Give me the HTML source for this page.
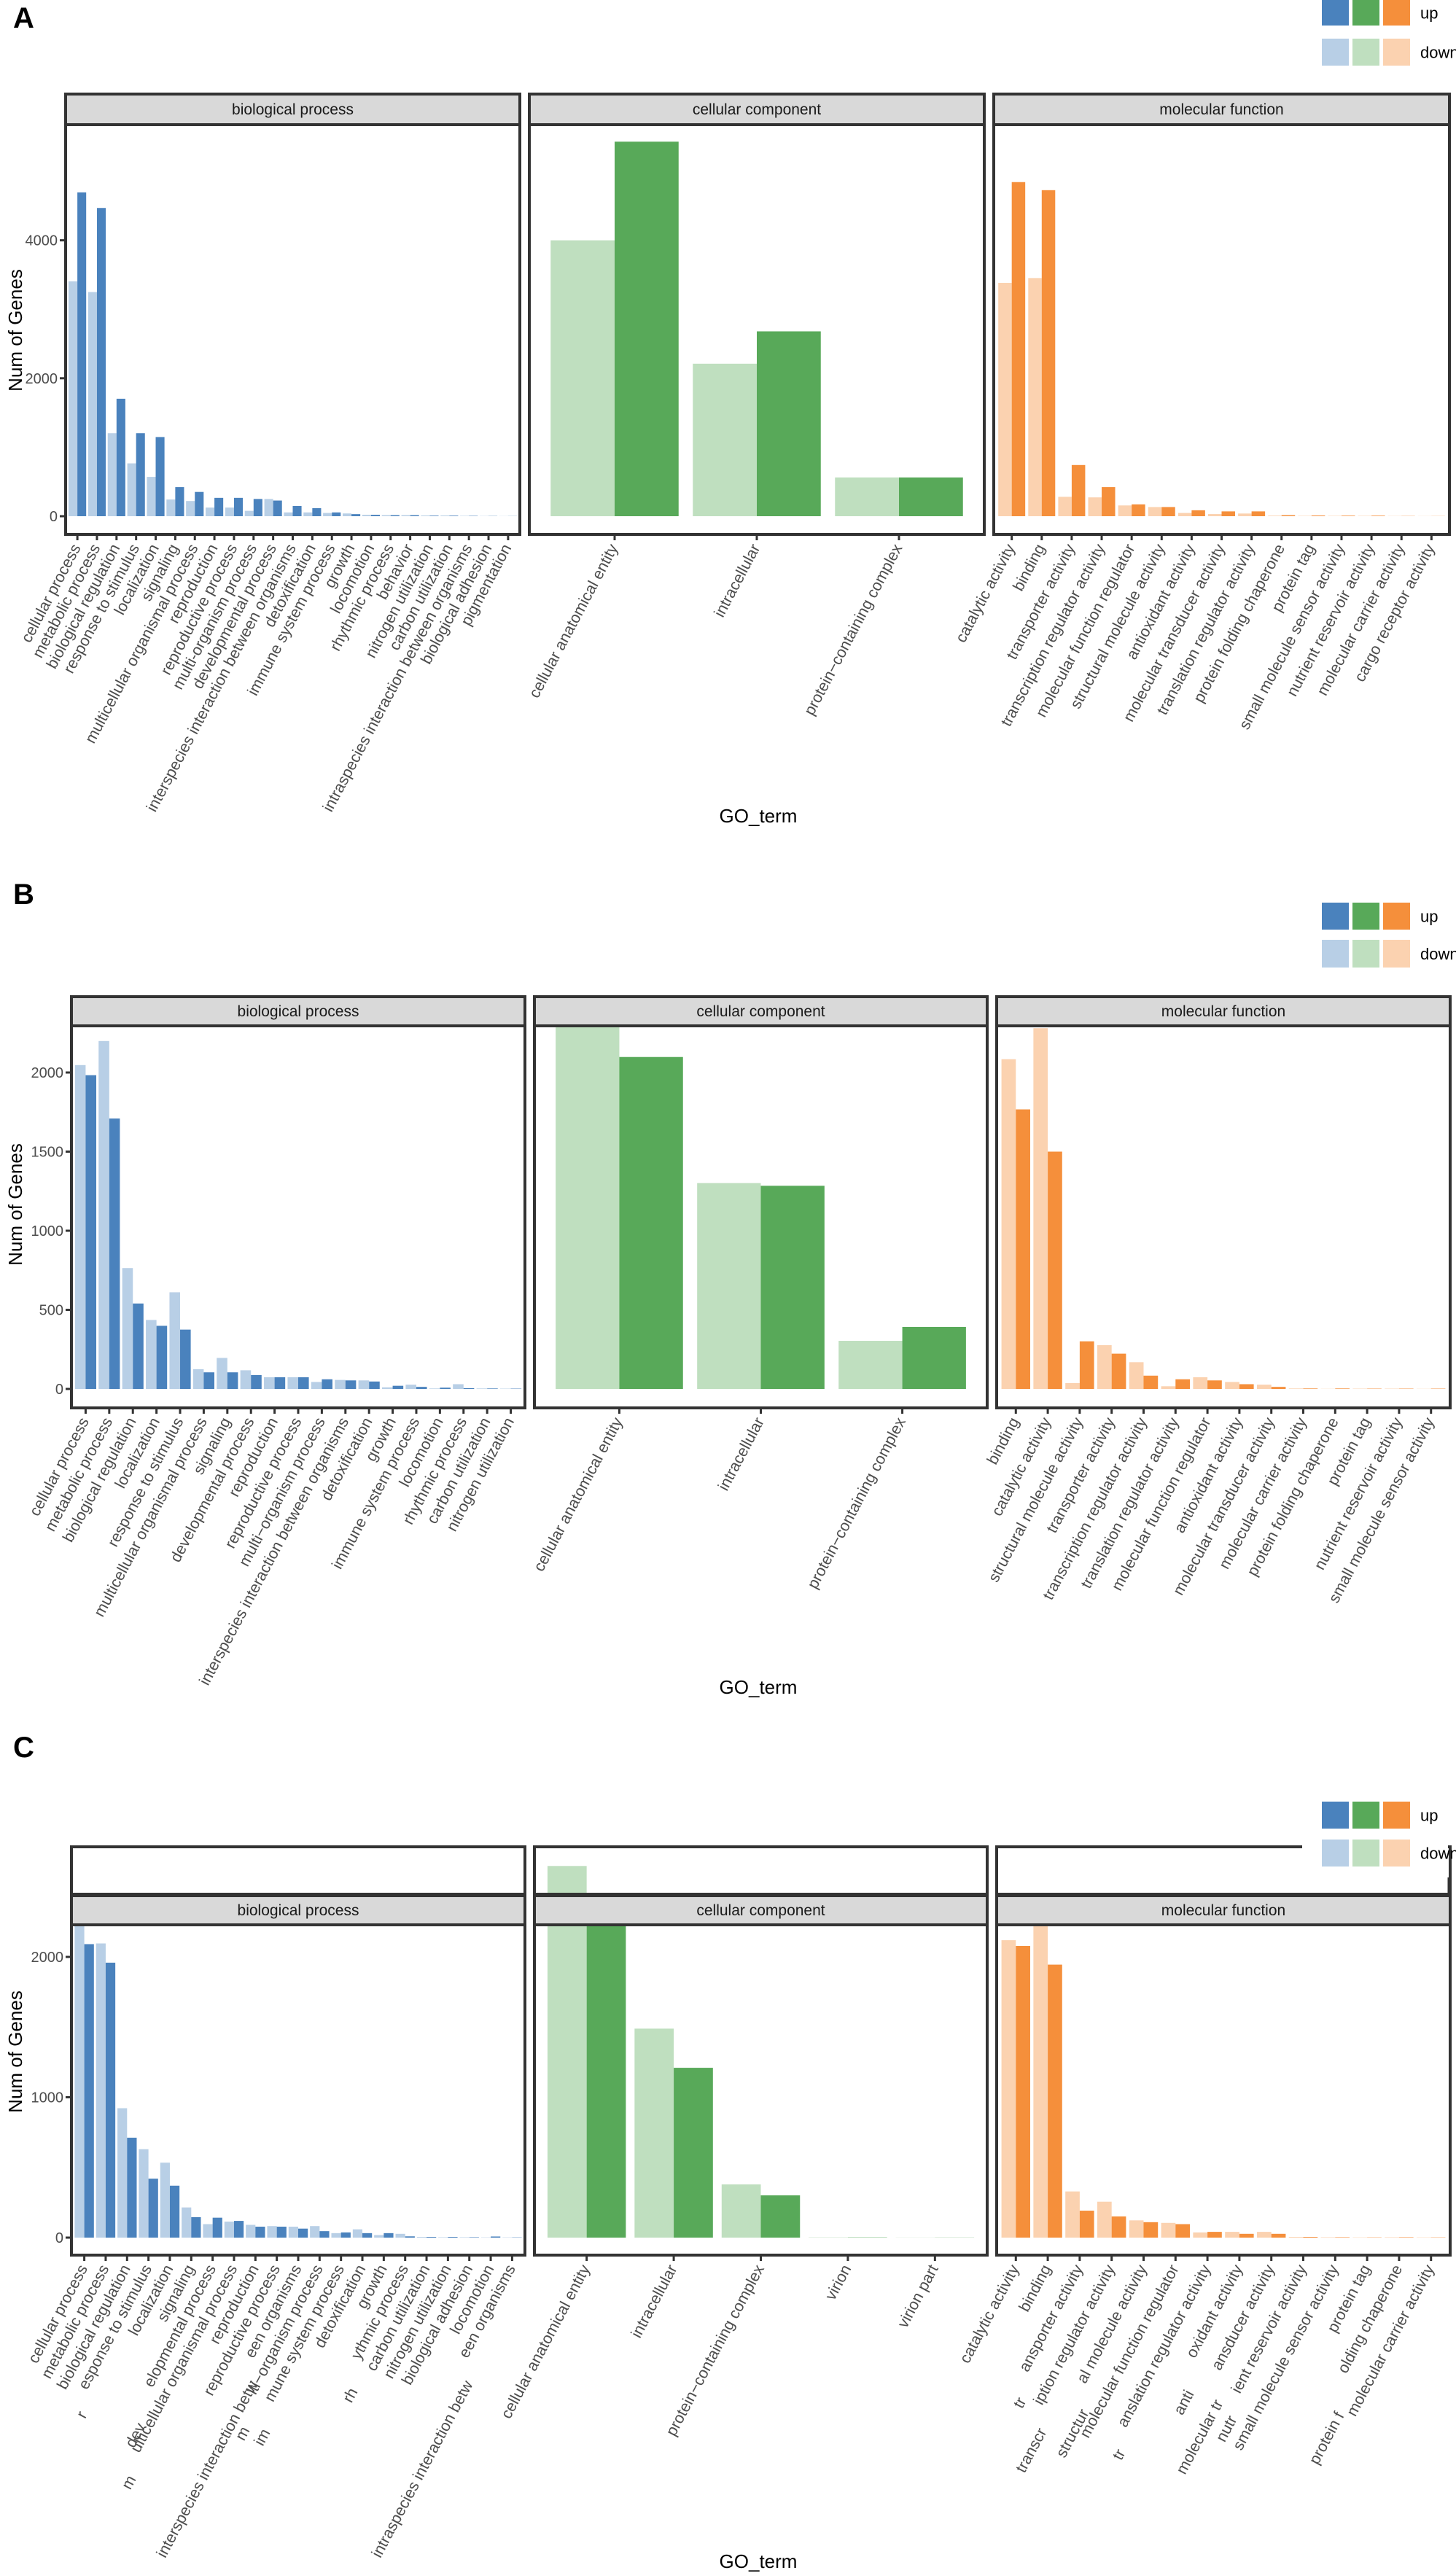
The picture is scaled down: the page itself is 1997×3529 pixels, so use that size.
<!DOCTYPE html>
<html><head><meta charset="utf-8">
<style>
html,body{margin:0;padding:0;background:#fff;}
svg{display:block;}
text{font-family:"Liberation Sans",Arial,sans-serif;}
</style></head>
<body>
<svg id="chart" width="1997" height="3529" viewBox="0 0 1997 3529" xmlns="http://www.w3.org/2000/svg"></svg>
<script>
// ===== Panel A data =====
const aBpCats=["cellular process","metabolic process","biological regulation","response to stimulus","localization","signaling","multicellular organismal process","reproduction","reproductive process","multi-organism process","developmental process","interspecies interaction between organisms","detoxification","immune system process","growth","locomotion","rhythmic process","behavior","nitrogen utilization","carbon utilization","intraspecies interaction between organisms","biological adhesion","pigmentation"];
const aBpUp=[4695,4469,1703,1203,1148,422,352,266,266,250,227,148,117,55,30,20,15,15,8,8,5,3,2];
const aBpDown=[3406,3250,1203,766,570,242,220,125,125,78,250,55,55,47,40,20,15,15,10,10,5,3,2];
const aCcCats=["cellular anatomical entity","intracellular","protein\u2212containing complex"];
const aCcUp=[5430,2680,562];
const aCcDown=[4000,2211,562];
const aMfCats=["catalytic activity","binding","transporter activity","transcription regulator activity","molecular function regulator","structural molecule activity","antioxidant activity","molecular transducer activity","translation regulator activity","protein folding chaperone","protein tag","small molecule sensor activity","nutrient reservoir activity","molecular carrier activity","cargo receptor activity"];
const aMfUp=[4844,4727,742,422,172,133,86,70,70,15,10,8,8,3,2];
const aMfDown=[3383,3453,281,273,156,133,47,31,39,8,5,5,5,3,2];
const aTicks=[0,2000,4000];
// ===== Panel B data =====
const bBpCats=["cellular process","metabolic process","biological regulation","localization","response to stimulus","multicellular organismal process","signaling","developmental process","reproduction","reproductive process","multi\u2212organism process","interspecies interaction between organisms","detoxification","growth","immune system process","locomotion","rhythmic process","carbon utilization","nitrogen utilization"];
const bBpUp=[1983,1709,540,399,375,105,105,88,74,74,61,54,47,20,13,8,5,3,2];
const bBpDown=[2047,2199,764,436,611,125,196,118,74,74,44,57,54,10,27,3,30,3,2];
const bCcCats=["cellular anatomical entity","intracellular","protein\u2212containing complex"];
const bCcUp=[2098,1284,392];
const bCcDown=[2290,1301,304];
const bMfCats=["binding","catalytic activity","structural molecule activity","transporter activity","transcription regulator activity","translation regulator activity","molecular function regulator","antioxidant activity","molecular transducer activity","molecular carrier activity","protein folding chaperone","protein tag","nutrient reservoir activity","small molecule sensor activity"];
const bMfUp=[1767,1500,301,223,84,61,54,30,13,3,3,2,2,2];
const bMfDown=[2084,2280,37,277,169,17,74,44,27,3,1,2,2,1];
const bTicks=[0,500,1000,1500,2000];
// ===== Panel C data =====
const cBpCats=["cellular process","metabolic process","biological regulation","esponse to stimulus","localization","signaling","elopmental process","ulticellular organismal process","reproduction","reproductive process","een organisms","lti\u2212organism process","mune system process","detoxification","growth","ythmic process","carbon utilization","nitrogen utilization","biological adhesion","locomotion","een organisms"];
const cBpUp=[2091,1959,712,420,370,146,142,119,78,78,64,46,37,32,32,9,5,5,3,8,2];
const cBpDown=[2228,2096,922,630,534,215,96,114,91,82,78,82,32,59,18,27,5,3,3,2,2];
const cCcCats=["cellular anatomical entity","intracellular","protein\u2212containing complex","virion","virion part"];
const cCcUp=[2240,1210,301,2,1];
const cCcDown=[2648,1489,379,2,1];
const cMfCats=["catalytic activity","binding","ansporter activity","iption regulator activity","al molecule activity","molecular function regulator","anslation regulator activity","oxidant activity","ansducer activity","ient reservoir activity","small molecule sensor activity","protein tag","olding chaperone","molecular carrier activity"];
const cMfUp=[2078,1945,192,151,110,96,41,27,27,5,3,2,3,2];
const cMfDown=[2119,2219,329,256,123,105,37,41,41,5,3,2,3,2];
const cTicks=[0,1000,2000];

const NS="http://www.w3.org/2000/svg";
const svg=document.getElementById('chart');
function mk(tag,attrs,parent){const e=document.createElementNS(NS,tag);for(const k in attrs)e.setAttribute(k,attrs[k]);(parent||svg).appendChild(e);return e;}

const COL={bp:["#4a82bd","#b8cfe6"],cc:["#58a959","#bfdfbf"],mf:["#f58f3b","#fbd2b0"]};
const PX=[[90,713],[726,1350],[1363,1988]];
const PXB=[[98,720],[733,1354],[1367,1989]];
const ANG=-62, LFS=21.5;

function drawFigure(f){
  const g=mk('g',{});
  
  
  const yS=v=>f.zero-v*f.k;
  const L=mk('text',{x:18,y:f.letterY,'font-size':40,'font-weight':'bold',fill:'#000'},g);
  L.textContent=f.id.toUpperCase();
  
  
  const clipId='clip'+f.id;
  const defs=mk('defs',{},g);
  f.panels.forEach((p,pi)=>{
    const [x0,x1]=f.px[pi];
    const w=x1-x0;
    const n=p.cats.length;
    const step=w/(n+0.2);
    const xS=i=>x0+(i+0.6)*step;
    const pg=mk('g',{},g);
    
    
    const cp=mk('clipPath',{id:clipId+pi},defs);
    mk('rect',{x:x0,y:f.clipTop,width:w,height:f.bottom-f.clipTop},cp);
    const bg=mk('g',{'clip-path':'url(#'+clipId+pi+')'},pg);
    p.cats.forEach((c,i)=>{
      const cx=xS(i),bw=step*0.45;
      const d=mk('rect',{x:cx-bw,y:yS(p.down[i]),width:bw,height:p.down[i]*f.k,fill:COL[p.key][1]},bg);
      
      
      const u=mk('rect',{x:cx,y:yS(p.up[i]),width:bw,height:p.up[i]*f.k,fill:COL[p.key][0]},bg);
      
      
      const t=mk('line',{x1:cx,x2:cx,y1:f.bottom,y2:f.bottom+8,stroke:'#333','stroke-width':3},pg);
      
      
      const tx=cx+5,ty=f.bottom+18;
      const lb=mk('text',{x:tx,y:ty,'font-size':LFS,fill:'#4d4d4d','text-anchor':'end',transform:'rotate('+ANG+' '+tx+' '+ty+')'},pg);
      lb.textContent=c;
      
      
    });
    if(f.topBox){
      const tb=mk('rect',{x:x0,y:f.topBox[0],width:w,height:f.topBox[1]-f.topBox[0],fill:'none',stroke:'#333','stroke-width':4},pg);
      
      
    }
    const st=mk('rect',{x:x0,y:f.strip[0],width:w,height:f.strip[1]-f.strip[0],fill:'#d9d9d9',stroke:'#333','stroke-width':4},pg);
    
    
    const stt=mk('text',{x:(x0+x1)/2,y:(f.strip[0]+f.strip[1])/2+7,'font-size':21,fill:'#1a1a1a','text-anchor':'middle'},pg);
    stt.textContent=p.title;
    
    
    const fr=mk('rect',{x:x0,y:f.strip[1],width:w,height:f.bottom-f.strip[1],fill:'none',stroke:'#333','stroke-width':4},pg);
    
    
  });
  const x0=f.px[0][0];
  f.ticks.forEach(v=>{
    const y=yS(v);
    const tl=mk('line',{x1:x0-8,x2:x0,y1:y,y2:y,stroke:'#333','stroke-width':3},g);
    
    
    const tt=mk('text',{x:x0-11,y:y+7,'font-size':20,fill:'#4d4d4d','text-anchor':'end'},g);
    tt.textContent=String(v);
    
    
  });
  const yt=mk('text',{x:30,y:f.yTitleY,'font-size':26,fill:'#000','text-anchor':'middle',transform:'rotate(-90 30 '+f.yTitleY+')'},g);
  yt.textContent='Num of Genes';
  
  
  const xt=mk('text',{x:1040,y:f.xTitleY,'font-size':26,fill:'#000','text-anchor':'middle'},g);
  xt.textContent='GO_term';
  
  
  const lg=mk('g',{},g);
  
  
  if(f.legendBg){mk('rect',{x:1786,y:f.legend[0]-12,width:200,height:f.legend[3]-f.legend[0]+12,fill:'#fff'},lg);}
  const bx=[1813,1855,1897];
  ['bp','cc','mf'].forEach((k,i)=>{
    const r1=mk('rect',{x:bx[i],y:f.legend[0],width:37,height:f.legend[1]-f.legend[0],fill:COL[k][0]},lg);
    
    
    const r2=mk('rect',{x:bx[i],y:f.legend[2],width:37,height:f.legend[3]-f.legend[2],fill:COL[k][1]},lg);
    
    
  });
  const lu=mk('text',{x:1948,y:(f.legend[0]+f.legend[1])/2+8,'font-size':22,fill:'#000'},lg);
  lu.textContent='up';
  
  
  const ld=mk('text',{x:1948,y:(f.legend[2]+f.legend[3])/2+8,'font-size':22,fill:'#000'},lg);
  ld.textContent='down';
  
  
  return g;
}

drawFigure({id:'a',px:PX,zero:708,k:0.0946,clipTop:171,strip:[129,171],bottom:733,ticks:aTicks,letterY:38,yTitleY:453,xTitleY:1128,legend:[0,35,53,90],
  panels:[{key:'bp',title:'biological process',cats:aBpCats,up:aBpUp,down:aBpDown},{key:'cc',title:'cellular component',cats:aCcCats,up:aCcUp,down:aCcDown},{key:'mf',title:'molecular function',cats:aMfCats,up:aMfUp,down:aMfDown}]});
drawFigure({id:'b',px:PXB,zero:1905,k:0.217,clipTop:1407,strip:[1367,1407],bottom:1931,ticks:bTicks,letterY:1240,yTitleY:1652,xTitleY:2323,legend:[1238,1275,1289,1327],
  panels:[{key:'bp',title:'biological process',cats:bBpCats,up:bBpUp,down:bBpDown},{key:'cc',title:'cellular component',cats:bCcCats,up:bCcUp,down:bCcDown},{key:'mf',title:'molecular function',cats:bMfCats,up:bMfUp,down:bMfDown}]});
drawFigure({id:'c',px:PXB,zero:3069,k:0.1925,clipTop:2533,topBox:[2533,2598],strip:[2600,2640],bottom:3093,ticks:cTicks,letterY:2410,yTitleY:2814,xTitleY:3522,legend:[2471,2508,2523,2560],legendBg:true,
  panels:[{key:'bp',title:'biological process',cats:cBpCats,up:cBpUp,down:cBpDown},{key:'cc',title:'cellular component',cats:cCcCats,up:cCcUp,down:cCcDown},{key:'mf',title:'molecular function',cats:cMfCats,up:cMfUp,down:cMfDown}]});

const sb=mk('line',{x1:1987,x2:1987,y1:2575,y2:2598,stroke:'#333','stroke-width':3});



const frags=[["r",120,3312],["dev",200,3328],["m",187,3400],["interspecies interaction betw",354,3270],["m",343,3333],["im",371,3336],["rh",491,3280],["intraspecies interaction betw",649,3270],
["tr",1408,3293],["transcr",1436,3335],["structur",1494,3309],["tr",1544,3364],["anti",1638,3283],["molecular tr",1678,3296],["nutr",1697,3318],["protein f",1844,3313]];
frags.forEach(fr=>{
  const t=mk('text',{x:fr[1],y:fr[2],'font-size':LFS,fill:'#4d4d4d','text-anchor':'end',transform:'rotate('+ANG+' '+fr[1]+' '+fr[2]+')'});
  t.textContent=fr[0];
  
  
});
</script>
</body></html>
